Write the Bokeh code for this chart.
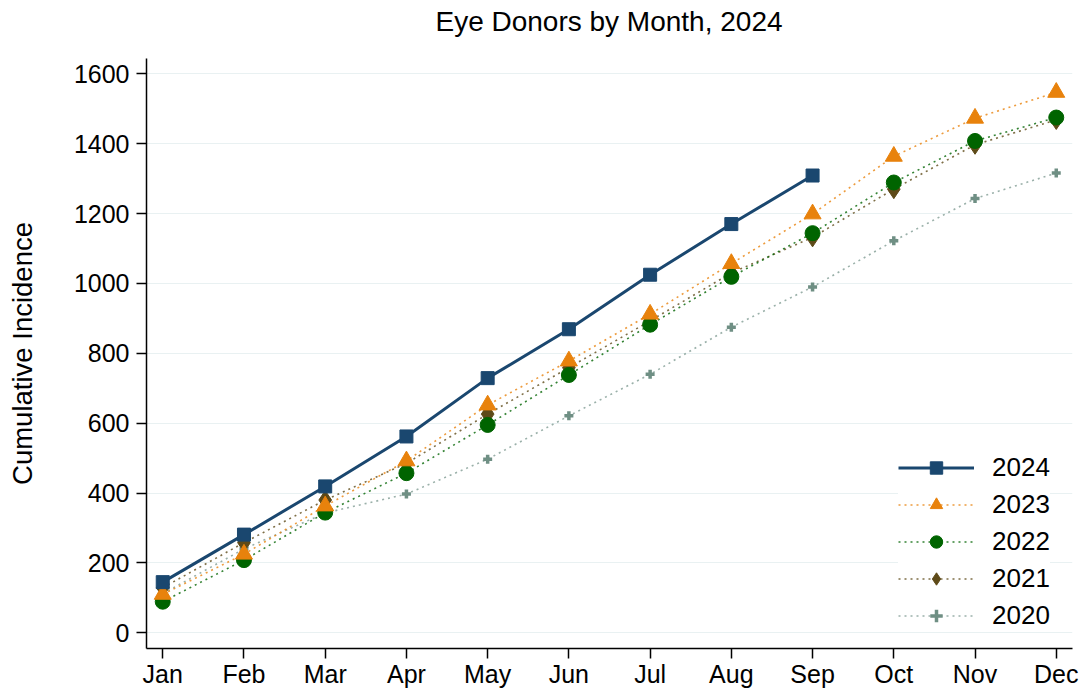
from bokeh.plotting import figure
from bokeh.models import (Range1d, FixedTicker, Legend, LegendItem, Div)
from bokeh.layouts import column
from bokeh.embed import file_html
from bokeh.resources import INLINE

months = ["Jan", "Feb", "Mar", "Apr", "May", "Jun", "Jul", "Aug", "Sep", "Oct", "Nov", "Dec"]
y2024 = [145, 281, 419, 562, 729, 869, 1025, 1170, 1309]
y2023 = [110, 225, 363, 492, 652, 778, 912, 1057, 1199, 1364, 1473, 1547]
y2022 = [89, 208, 344, 457, 595, 738, 882, 1019, 1144, 1289, 1408, 1475]
y2021 = [129, 258, 380, 485, 626, 759, 893, 1030, 1132, 1270, 1397, 1468]
y2020 = [112, 240, 343, 397, 497, 621, 740, 875, 990, 1122, 1243, 1316]
y_ticks = [0, 200, 400, 600, 800, 1000, 1200, 1400, 1600]
title_text = "Eye Donors by Month, 2024"

FONT = "Liberation Sans"

title = Div(text=title_text, width=926, height=50, margin=(0, 0, 0, 146),
            styles={"font-family": FONT, "font-size": "28px", "line-height": "28px",
                    "text-align": "center", "padding-top": "8px", "color": "black",
                    "width": "926px"})

p = figure(frame_width=926, frame_height=590, output_backend="svg",
           toolbar_location=None, min_border_left=146, min_border_top=8,
           min_border_bottom=40, min_border_right=8,
           x_range=Range1d(-0.2, 11.2), y_range=Range1d(-45, 1644))
p.outline_line_color = None
p.background_fill_color = "white"
p.border_fill_color = "white"

# axes
p.xaxis.ticker = FixedTicker(ticks=list(range(12)))
p.xaxis.major_label_overrides = {i: m for i, m in enumerate(months)}
p.yaxis.ticker = FixedTicker(ticks=y_ticks)
for ax in (p.xaxis[0], p.yaxis[0]):
    ax.axis_line_color = "black"
    ax.axis_line_width = 1.5
    ax.major_tick_line_color = "black"
    ax.major_tick_line_width = 1.5
    ax.major_tick_out = 10
    ax.major_tick_in = 0
    ax.minor_tick_line_color = None
    ax.major_label_text_font = FONT
    ax.major_label_text_font_size = "25px"
    ax.major_label_text_color = "black"
p.xaxis.major_label_standoff = 1
p.yaxis.major_label_standoff = 7
p.yaxis.axis_label = "Cumulative Incidence"
p.yaxis.axis_label_text_font = FONT
p.yaxis.axis_label_text_font_size = "27.5px"
p.yaxis.axis_label_text_font_style = "normal"
p.yaxis.axis_label_text_color = "black"
p.yaxis.axis_label_standoff = 33

p.xgrid.grid_line_color = None
p.ygrid.grid_line_color = "#e9f1f2"
p.ygrid.grid_line_width = 1.2

x12 = list(range(12))

# 2020
c20 = "#6f8f84"
l20 = p.line(x12, y2020, line_color=c20, line_width=1.6, line_dash="2 4", line_alpha=0.7)
m20 = p.scatter(x12, y2020, marker="cross", size=9, line_color=c20, line_width=3.5)
# 2021
c21 = "#5e4a18"
l21 = p.line(x12, y2021, line_color=c21, line_width=1.6, line_dash="2 4", line_alpha=0.8)
m21 = p.scatter(x12, y2021, marker="diamond", size=19, fill_color=c21, line_color=c21)
# 2022
c22 = "#006400"
l22 = p.line(x12, y2022, line_color=c22, line_width=1.6, line_dash="2 4", line_alpha=0.8)
m22 = p.scatter(x12, y2022, marker="circle", size=15, fill_color=c22, line_color=c22)
# 2023
c23 = "#e8820c"
l23 = p.line(x12, y2023, line_color=c23, line_width=1.6, line_dash="2 4", line_alpha=0.8)
m23 = p.scatter(x12, y2023, marker="triangle", size=17, fill_color=c23, line_color=c23)
# 2024
c24 = "#1a476f"
x9 = list(range(len(y2024)))
l24 = p.line(x9, y2024, line_color=c24, line_width=3)
m24 = p.scatter(x9, y2024, marker="square", size=13, fill_color=c24, line_color=c24)

legend = Legend(items=[
    LegendItem(label="2024", renderers=[l24, m24]),
    LegendItem(label="2023", renderers=[l23, m23]),
    LegendItem(label="2022", renderers=[l22, m22]),
    LegendItem(label="2021", renderers=[l21, m21]),
    LegendItem(label="2020", renderers=[l20, m20]),
], location=(752, 17))
legend.border_line_color = None
legend.background_fill_color = "white"
legend.background_fill_alpha = 1.0
legend.label_text_font = FONT
legend.label_text_font_size = "26px"
legend.label_text_color = "black"
legend.glyph_width = 76
legend.glyph_height = 31
legend.label_height = 31
legend.spacing = 6
legend.padding = 10
legend.margin = 0
legend.label_standoff = 18
p.add_layout(legend, "center")

layout = column(title, p, spacing=0)
open("out.html", "w").write(file_html(layout, INLINE))
